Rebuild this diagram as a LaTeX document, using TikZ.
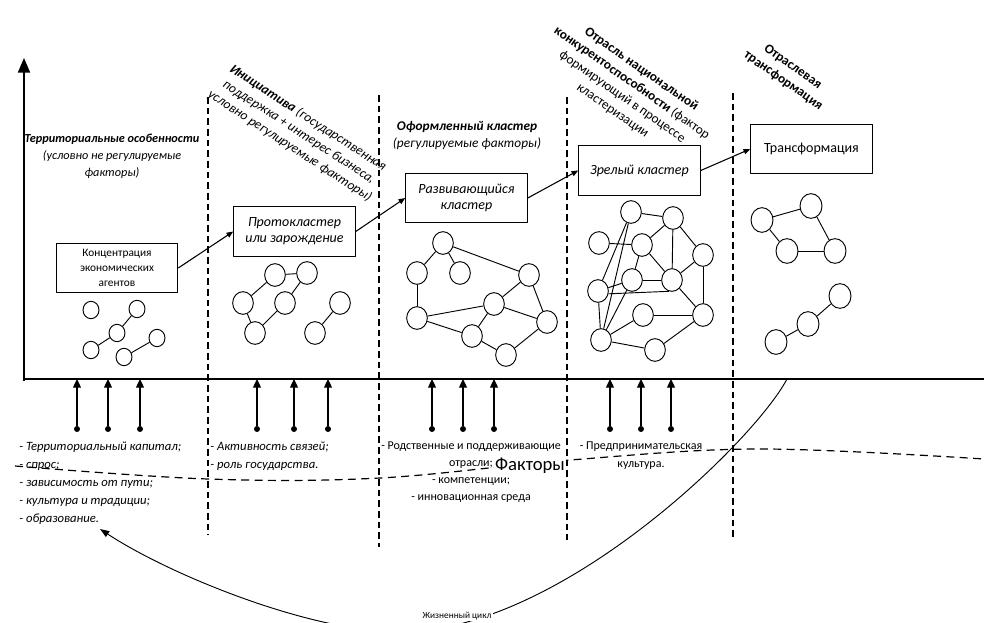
\documentclass[tikz,border=0pt]{standalone}
\usepackage{fontspec}
\setmainfont{Carlito}
\usetikzlibrary{arrows.meta,shapes.geometric}
\begin{document}
\begin{tikzpicture}[x=0.75pt,y=-0.75pt,line join=round,
  box/.style={draw,line width=0.9pt,minimum width=91pt,minimum height=37pt,inner sep=2pt,align=center,font=\fontsize{10.5}{12}\selectfont},
  flow/.style={line width=0.8pt,-{Triangle[length=5pt,width=4pt]}},
  ag/.style={draw,ellipse,line width=0.7pt,inner sep=0pt,minimum width=15.5pt,minimum height=17pt},
  agsmall/.style={ag,minimum width=12pt,minimum height=13pt},
  agbig/.style={ag,minimum width=16.5pt,minimum height=18.5pt},
  link/.style={line width=0.7pt},
  vdash/.style={line width=0.8pt,dash pattern=on 5pt off 3pt},
  wave/.style={line width=0.9pt,dash pattern=on 6pt off 4pt},
  dot/.style={circle,fill,inner sep=0pt,minimum size=4.5pt},
  uparr/.style={line width=0.9pt,-{Triangle[length=6.5pt,width=6pt]}},
  head/.style={align=center,font=\fontsize{10}{12.5}\selectfont,inner sep=0pt},
  lst/.style={inner sep=0pt,font=\fontsize{9.5}{13.5}\selectfont},
]
\useasboundingbox (0,0) rectangle (984,623);
\clip (0,0) rectangle (984,623);

% axes
\coordinate (yb) at (24,381);
\coordinate (yt) at (24,58);
\coordinate (xl) at (23,379);
\coordinate (xr) at (984,379);
\draw[line width=1.5pt,-{Triangle[length=11pt,width=9pt]}] (yb) -- (yt);
\draw[line width=2pt] (xl) -- (xr);

% dashed wave
\draw[wave] plot[smooth,tension=0.6] coordinates {(15,466) (208,479) (380,478) (570,460) (760,449) (984,459)};
\node[fill=white,inner sep=1pt,font=\fontsize{14}{16}\selectfont] (fact) at (530,466) {Факторы};

% vertical dashed separators
\coordinate (v1t) at (208,97);  \coordinate (v1b) at (208,535);
\coordinate (v2t) at (379,95);  \coordinate (v2b) at (379,547);
\coordinate (v3t) at (567,97);  \coordinate (v3b) at (567,540);
\coordinate (v4t) at (733,93);  \coordinate (v4b) at (733,538);
\draw[vdash] (v1t) -- (v1b);
\draw[vdash] (v2t) -- (v2b);
\draw[vdash] (v3t) -- (v3b);
\draw[vdash] (v4t) -- (v4b);

% headings
\node[head,font=\fontsize{9.2}{12.75}\selectfont] (h1) at (112,156) {\textbf{\textit{Территориальные особенности}}\\\textit{(условно не регулируемые}\\\textit{факторы)}};
\node[head,rotate=-33] (h2) at (299,132) {\textbf{\textit{Инициатива}} \textit{(государственная}\\\textit{поддержка + интерес бизнеса,}\\\textit{условно регулируемые факторы)}};
\node[head] (h3) at (467,135.5) {\textbf{\textit{Оформленный кластер}}\\\textit{(регулируемые факторы)}};
\node[head,rotate=-35] (h4) at (627,90) {\textbf{Отрасль национальной}\\\textbf{конкурентоспособности} (фактор\\формирующий в процессе\\кластеризации};
\node[head,rotate=-35] (h5) at (788,74) {\textbf{Отраслевая}\\\textbf{трансформация}};

% stage boxes
\node[box,font=\fontsize{8.5}{11}\selectfont] (b1) at (117,268) {Концентрация\\экономических\\агентов};
\node[box] (b2) at (294.5,231.5) {\textit{Протокластер}\\\textit{или зарождение}};
\node[box] (b3) at (466.5,198) {\textit{Развивающийся}\\\textit{кластер}};
\node[box] (b4) at (639.5,170.5) {\textit{Зрелый кластер}};
\node[box] (b5) at (811.5,149) {Трансформация};
\draw[flow] (b1.east) -- (b2.west);
\draw[flow] (b2.east) -- (b3.west);
\draw[flow] (b3.east) -- (b4.west);
\draw[flow] (b4.east) -- (b5.west);

% cluster 1
\node[agsmall] (c1a) at (91,310) {};
\node[agsmall] (c1b) at (137,309) {};
\node[agsmall] (c1c) at (117,333) {};
\node[agsmall] (c1d) at (91,350) {};
\node[agsmall] (c1e) at (157,338) {};
\node[agsmall] (c1f) at (124,357) {};
\draw[link] (c1d) -- (c1c);
\draw[link] (c1c) -- (c1b);
\draw[link] (c1f) -- (c1e);

% cluster 2
\node[ag] (c2a) at (275,275) {};
\node[ag] (c2b) at (307,273) {};
\node[ag] (c2c) at (243,303) {};
\node[ag] (c2d) at (285,303) {};
\node[ag] (c2e) at (255,333) {};
\node[ag] (c2f) at (340,303) {};
\node[ag] (c2g) at (315,333) {};
\draw[link] (c2a) -- (c2b);
\draw[link] (c2a) -- (c2c);
\draw[link] (c2b) -- (c2d);
\draw[link] (c2c) -- (c2e);
\draw[link] (c2d) -- (c2e);
\draw[link] (c2f) -- (c2g);

% cluster 3
\node[ag] (p1) at (443,243) {};
\node[ag] (p2) at (417,273) {};
\node[ag] (p3) at (460,273) {};
\node[ag] (p4) at (529,275) {};
\node[ag] (p5) at (494,304) {};
\node[ag] (p6) at (417,318) {};
\node[ag] (p7) at (547,322) {};
\node[ag] (p8) at (472,336) {};
\node[ag] (p9) at (506,355) {};
\draw[link] (p1) -- (p2);
\draw[link] (p1) -- (p3);
\draw[link] (p1) -- (p4);
\draw[link] (p2) -- (p6);
\draw[link] (p6) -- (p5);
\draw[link] (p4) -- (p5);
\draw[link] (p4) -- (p7);
\draw[link] (p5) -- (p7);
\draw[link] (p6) -- (p8);
\draw[link] (p5) -- (p8);
\draw[link] (p8) -- (p9);
\draw[link] (p9) -- (p7);

% cluster 4
\node[ag] (q1) at (631,212) {};
\node[ag] (q2) at (673,218) {};
\node[ag] (q3) at (599,243) {};
\node[ag] (q4) at (642,245) {};
\node[ag] (q5) at (703,255) {};
\node[ag] (q6) at (632,280) {};
\node[ag] (q7) at (672,280) {};
\node[ag] (q8) at (598,291) {};
\node[ag] (q9) at (643,315) {};
\node[ag] (q10) at (703,315) {};
\node[ag] (q11) at (601,340) {};
\node[ag] (q12) at (655,350) {};
\draw[link] (q1) -- (q2);
\draw[link] (q1) -- (q8);
\draw[link] (q1) -- (q11);
\draw[link] (q3) -- (q4);
\draw[link] (q2) -- (q4);
\draw[link] (q2) -- (q7);
\draw[link] (q2) -- (q5);
\draw[link] (q4) -- (q6);
\draw[link] (q4) -- (q7);
\draw[link] (q5) -- (q7);
\draw[link] (q5) -- (q10);
\draw[link] (q6) -- (q7);
\draw[link] (q6) -- (q8);
\draw[link] (q6) -- (q11);
\draw[link] (q7) -- (q10);
\draw[link] (q8.-15) -- (q7.-105);
\draw[link] (q8) -- (q11);
\draw[link] (q9) -- (q10);
\draw[link] (q9) -- (q11);
\draw[link] (q11) -- (q12);
\draw[link] (q12) -- (q10);

% cluster 5
\node[agbig] (r1) at (762,220) {};
\node[agbig] (r2) at (811,206) {};
\node[agbig] (r3) at (787,251) {};
\node[agbig] (r4) at (835,251) {};
\node[agbig] (r5) at (840,296) {};
\node[agbig] (r6) at (808,324) {};
\node[agbig] (r7) at (776,342) {};
\draw[link] (r1) -- (r2);
\draw[link] (r1) -- (r3);
\draw[link] (r2) -- (r4);
\draw[link] (r3) -- (r4);
\draw[link] (r5) -- (r6);
\draw[link] (r6) -- (r7);

% factor arrows
\foreach \n/\x in {d1/77,d2/108,d3/140,d4/257,d5/294,d6/328,d7/432,d8/463,d9/494,d10/610,d11/641,d12/671}{
  \node[dot] (\n) at (\x,429) {};
  \draw[uparr] (\n) -- (\n |- xl);
}

% factor lists
\node[lst,anchor=north west,align=left] (l1) at (19,442) {\textit{- Территориальный капитал;}\\\textit{- спрос;}\\\textit{- зависимость от пути;}\\\textit{- культура и традиции;}\\\textit{- образование.}};
\node[lst,anchor=north west,align=left] (l2) at (210,442) {\textit{- Активность связей;}\\\textit{- роль государства.}};
\node[lst,anchor=north,align=center,font=\fontsize{9}{12.75}\selectfont] (l3) at (471,442) {- Родственные и поддерживающие\\отрасли;\\- компетенции;\\- инновационная среда};
\node[lst,anchor=north,align=center,font=\fontsize{9}{13.5}\selectfont] (l4) at (641,442) {- Предпринимательская\\культура.};

% life cycle
\coordinate (lcs) at (787,379);
\coordinate (lce) at (100,529);
\draw[line width=0.7pt,-{Triangle[length=7pt,width=5pt]}] (lcs) .. controls (755,440) and (560,632) .. (400,632) .. controls (310,632) and (170,575) .. (lce);
\node[fill=white,inner sep=1pt,font=\fontsize{7}{8}\selectfont] (lc) at (457,616) {Жизненный цикл};
\end{tikzpicture}
\end{document}
